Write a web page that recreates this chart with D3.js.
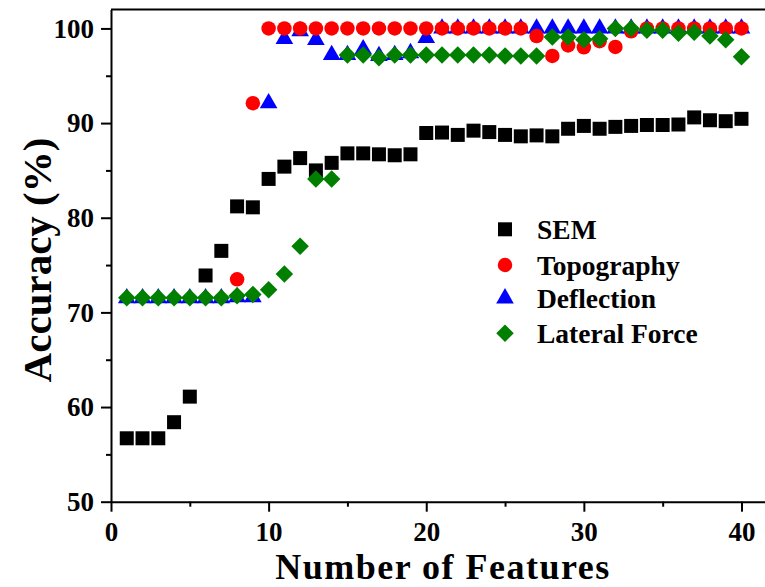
<!DOCTYPE html>
<html>
<head>
<meta charset="utf-8">
<script src="https://cdn.jsdelivr.net/npm/d3@7"></script>
<style>
  body { margin: 0; background: #fff; }
  svg { display: block; }
  text { font-family: "Liberation Serif", "Times New Roman", serif; font-weight: bold; }
</style>
</head>
<body>
<div id="chart"></div>
<script>
// number of features on the x axis
var features = [1, 2, 3, 4, 5, 6, 7, 8, 9, 10,
                11, 12, 13, 14, 15, 16, 17, 18, 19, 20,
                21, 22, 23, 24, 25, 26, 27, 28, 29, 30,
                31, 32, 33, 34, 35, 36, 37, 38, 39, 40];

var sem = [56.7, 56.7, 56.7, 58.4, 61.1, 73.9, 76.5, 81.2, 81.1, 84.1,
           85.4, 86.3, 85.0, 85.8, 86.8, 86.8, 86.7, 86.6, 86.7, 88.95,
           89.0, 88.75, 89.2, 89.05, 88.75, 88.6, 88.7, 88.6, 89.4, 89.7,
           89.4, 89.6, 89.7, 89.8, 89.8, 89.85, 90.6, 90.3, 90.2, 90.45];

var topography = [null, null, null, null, null, null, null, 73.5, 92.1, 100,
                  100, 100, 100, 100, 100, 100, 100, 100, 100, 100,
                  100, 100, 100, 100, 100, 100, 99.2, 97.1, 98.2, 98.0,
                  98.65, 98.05, 99.7, 100, 100, 100, 100, 100, 100, 100];

var deflection = [71.5, 71.5, 71.5, 71.5, 71.5, 71.5, 71.5, 71.6, 71.6, 92.1,
                  98.9, 99.7, 98.8, 97.2, 97.2, 97.8, 97.1, 97.2, 97.4, 99.0,
                  100, 100, 100, 100, 100, 100, 100, 100, 100, 100,
                  100, 100, 100, 100, 100, 100, 100, 100, 100, 100];

var lateral = [71.55, 71.55, 71.55, 71.55, 71.55, 71.55, 71.55, 71.75, 71.9, 72.4,
               74.05, 77.0, 84.1, 84.1, 97.2, 97.2, 96.9, 97.2, 97.2, 97.2,
               97.2, 97.2, 97.2, 97.2, 97.1, 97.1, 97.1, 99.1, 99.1, 98.8,
               98.9, 100, 100, 99.8, 99.8, 99.5, 99.6, 99.2, 98.8, 97.0];

var xTicks = [0, 10, 20, 30, 40];
var xMinor = [5, 15, 25, 35];
var yTicks = [50, 60, 70, 80, 90, 100];
var yMinor = [55, 65, 75, 85, 95];

var seriesNames = ["SEM", "Topography", "Deflection", "Lateral Force"];

var width = 765, height = 587;

var svg = d3.select("#chart")
  .append("svg")
    .attr("width", width)
    .attr("height", height);

var x = d3.scaleLinear()
    .domain([0, 42])
    .range([111, 773]);

var y = d3.scaleLinear()
    .domain([50, 102])
    .range([501.7, 9.5]);

// symbols
var sym = {
  "SEM":           { type: d3.symbolSquare,   size: 196, fill: "#000000", rot: 0 },
  "Topography":    { type: d3.symbolCircle,   size: 165, fill: "#ff0000", rot: 0 },
  "Deflection":    { type: d3.symbolTriangle, size: 135, fill: "#0000ff", rot: 0 },
  "Lateral Force": { type: d3.symbolSquare,   size: 153, fill: "#007f00", rot: 45 }
};

var values = {
  "SEM": sem,
  "Topography": topography,
  "Deflection": deflection,
  "Lateral Force": lateral
};

// top frame line
svg.append("line")
    .attr("x1", x(0)).attr("x2", x(42))
    .attr("y1", y(102)).attr("y2", y(102))
    .attr("stroke", "#000")
    .attr("stroke-width", 2);

// x axis
svg.append("g")
    .attr("transform", "translate(0," + y(50) + ")")
    .call(d3.axisBottom(x).tickValues(xTicks).tickSize(10).tickSizeOuter(0).tickPadding(10));
svg.append("g")
    .attr("transform", "translate(0," + y(50) + ")")
    .call(d3.axisBottom(x).tickValues(xMinor).tickSize(5).tickFormat(""))
    .call(function(g) { g.select(".domain").remove(); });

// y axis
svg.append("g")
    .attr("transform", "translate(" + x(0) + ",0)")
    .call(d3.axisLeft(y).tickValues(yTicks).tickSize(10).tickSizeOuter(0).tickPadding(7));
svg.append("g")
    .attr("transform", "translate(" + x(0) + ",0)")
    .call(d3.axisLeft(y).tickValues(yMinor).tickSize(5).tickFormat(""))
    .call(function(g) { g.select(".domain").remove(); });

svg.selectAll(".domain").attr("stroke-width", 2);
svg.selectAll(".tick line").attr("stroke-width", 2);
svg.selectAll(".tick text")
    .style("font-size", "27px")
    .style("font-family", "'Liberation Serif', 'Times New Roman', serif")
    .style("font-weight", "bold")
    .attr("fill", "#000");

// points, drawn in this order so overlaps look like the original
var drawOrder = ["SEM", "Deflection", "Topography", "Lateral Force"];
drawOrder.forEach(function(name) {
  var s = sym[name];
  var pts = features.map(function(f, i) { return { f: f, v: values[name][i] }; })
                    .filter(function(d) { return d.v != null; });
  svg.append("g")
    .selectAll("path")
    .data(pts)
    .enter()
    .append("path")
      .attr("d", d3.symbol().type(s.type).size(s.size))
      .attr("transform", function(d) {
        return "translate(" + x(d.f) + "," + y(d.v) + ") rotate(" + s.rot + ")";
      })
      .attr("fill", s.fill);
});

// legend
var legendY = [229.3, 265, 298.3, 333.3];
var legend = svg.append("g");
seriesNames.forEach(function(name, i) {
  var s = sym[name];
  legend.append("path")
      .attr("d", d3.symbol().type(s.type).size(s.size))
      .attr("transform", "translate(505," + legendY[i] + ") rotate(" + s.rot + ")")
      .attr("fill", s.fill);
  legend.append("text")
      .attr("x", 537)
      .attr("y", legendY[i])
      .attr("dy", "0.35em")
      .style("font-size", "27.5px")
      .text(name);
});

// axis titles
svg.append("text")
    .attr("x", 443)
    .attr("y", 579)
    .attr("text-anchor", "middle")
    .style("font-size", "36px")
    .style("letter-spacing", "1.5px")
    .text("Number of Features");

svg.append("text")
    .attr("transform", "translate(51,260) rotate(-90)")
    .attr("text-anchor", "middle")
    .style("font-size", "41px")
    .text("Accuracy (%)");
</script>
</body>
</html>
